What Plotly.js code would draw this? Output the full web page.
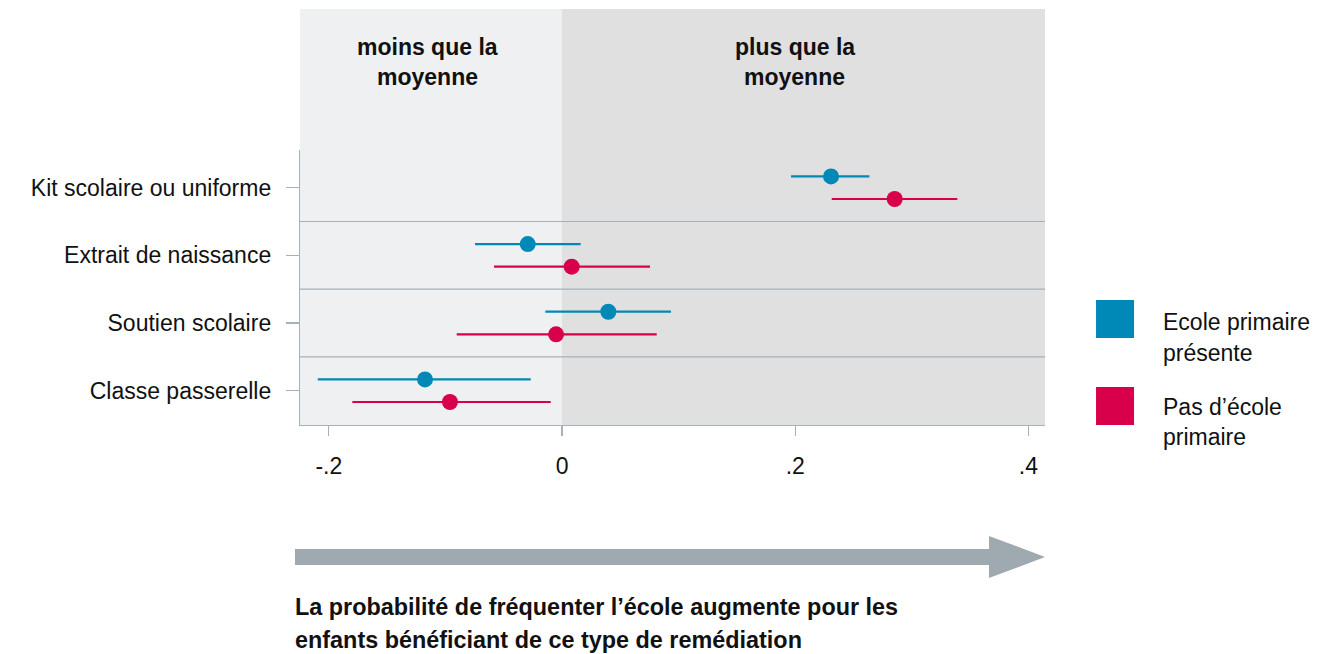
<!DOCTYPE html>
<html><head><meta charset="utf-8">
<script src="https://cdn.plot.ly/plotly-3.0.1.min.js"></script>
<style>body{margin:0;background:#fff}#c{width:1344px;height:654px}</style>
</head><body><div id="c"></div>
<script>
// ---- data ----
const categories = ["Kit scolaire ou uniforme", "Extrait de naissance", "Soutien scolaire", "Classe passerelle"];
const seriesNames = ["Ecole primaire<br>présente", "Pas d’école<br>primaire"];
const presentEst = [0.2307, -0.0294, 0.0397, -0.1175];
const presentLo  = [0.1964, -0.0746, -0.0143, -0.2095];
const presentHi  = [0.2636, 0.0160, 0.0935, -0.0268];
const absentEst  = [0.2853, 0.0083, -0.0051, -0.0961];
const absentLo   = [0.2313, -0.0583, -0.0903, -0.1798];
const absentHi   = [0.3390, 0.0755, 0.0812, -0.0097];
const xTickVals = [-0.2, 0, 0.2, 0.4];
const xTickText = ["-.2", "0", ".2", ".4"];

const BLUE = "#0088b6", RED = "#d8004a", AXIS = "#a7b2b8";
const FONT = "Liberation Sans, Arial, sans-serif";
const FS = 23;
const idx = categories.map((_, i) => i);

function series(est, lo, hi, off, color, name) {
  return {
    type: "scatter", mode: "markers", name: name,
    x: est, y: idx.map(i => i + off),
    marker: {size: 16, color: color},
    error_x: {type: "data", symmetric: false,
      array: est.map((v, i) => hi[i] - v),
      arrayminus: est.map((v, i) => v - lo[i]),
      color: color, thickness: 2.2, width: 0},
    showlegend: false, hoverinfo: "x"
  };
}
const traces = [
  series(presentEst, presentLo, presentHi, -0.167, BLUE, seriesNames[0]),
  series(absentEst, absentLo, absentHi, 0.167, RED, seriesNames[1])
];

const X0 = -0.2247, X1 = 0.4142;
const shapes = [
  {type: "rect", xref: "x", yref: "paper", x0: X0, x1: 0, y0: 0, y1: 1.5127, fillcolor: "#eff0f2", line: {width: 0}, layer: "below"},
  {type: "rect", xref: "x", yref: "paper", x0: 0, x1: X1, y0: 0, y1: 1.5127, fillcolor: "#e0e0e0", line: {width: 0}, layer: "below"},
];
[0.5, 1.5, 2.5].forEach(v => shapes.push({type: "line", xref: "paper", yref: "y", x0: 0, x1: 1, y0: v, y1: v, line: {color: AXIS, width: 1.2}, layer: "below"}));
// legend squares
shapes.push({type: "rect", xref: "paper", yref: "paper", x0: 1.0685, x1: 1.1195, y0: 0.3164, y1: 0.4545, fillcolor: BLUE, line: {width: 0}});
shapes.push({type: "rect", xref: "paper", yref: "paper", x0: 1.0685, x1: 1.1195, y0: 0.0, y1: 0.1382, fillcolor: RED, line: {width: 0}});
// arrow
shapes.push({type: "path", xref: "paper", yref: "paper",
  path: "M -0.0067,-0.4509 L 0.9248,-0.4509 L 0.9248,-0.4036 L 1.0,-0.48 L 0.9248,-0.5564 L 0.9248,-0.5091 L -0.0067,-0.5091 Z",
  fillcolor: "#9eaab0", line: {width: 0}});

function ann(text, x, y, opts) {
  return Object.assign({text: text, x: x, y: y, xref: "paper", yref: "paper", showarrow: false,
    xanchor: "center", yanchor: "middle", font: {family: FONT, size: FS, color: "#111"}}, opts || {});
}
const bottomFont = {family: FONT, size: 23.4, color: "#111"};
const annotations = [
  ann("<b>moins que la</b>", 0.1705, 1.3745),
  ann("<b>moyenne</b>", 0.1705, 1.2655),
  ann("<b>plus que la</b>", 0.6644, 1.3745),
  ann("<b>moyenne</b>", 0.6644, 1.2655),
  ann("Ecole primaire", 1.1557, 0.3745, {xanchor: "left"}),
  ann("présente", 1.1557, 0.2618, {xanchor: "left"}),
  ann("Pas d’école", 1.1557, 0.0655, {xanchor: "left"}),
  ann("primaire", 1.1557, -0.0436, {xanchor: "left"}),
  ann("<b>La probabilité de fréquenter l’école augmente pour les</b>", -0.0094, -0.6618, {xanchor: "left", font: bottomFont}),
  ann("<b>enfants bénéficiant de ce type de remédiation</b>", -0.0094, -0.7818, {xanchor: "left", font: bottomFont}),
];

const layout = {
  width: 1344, height: 654,
  margin: {l: 300, r: 299, t: 150, b: 229},
  paper_bgcolor: "#fff", plot_bgcolor: "rgba(0,0,0,0)",
  font: {family: FONT, size: FS, color: "#111"},
  xaxis: {range: [X0, X1], tickvals: xTickVals, ticktext: xTickText, showgrid: false, zeroline: false,
    showline: true, linecolor: AXIS, linewidth: 1.2, ticks: "outside", ticklen: 10, tickcolor: AXIS, tickwidth: 1.2,
    ticklabelstandoff: 10, tickfont: {family: FONT, size: FS, color: "#111"}, fixedrange: true},
  yaxis: {range: [3.507, -0.557], tickvals: idx, ticktext: categories, showgrid: false, zeroline: false,
    showline: true, linecolor: AXIS, linewidth: 1.2, ticks: "outside", ticklen: 13, tickcolor: AXIS, tickwidth: 1.2,
    ticklabelstandoff: 10, tickfont: {family: FONT, size: FS, color: "#111"}, fixedrange: true},
  shapes: shapes, annotations: annotations, showlegend: false
};
Plotly.newPlot("c", traces, layout, {displayModeBar: false, staticPlot: true});
</script></body></html>
